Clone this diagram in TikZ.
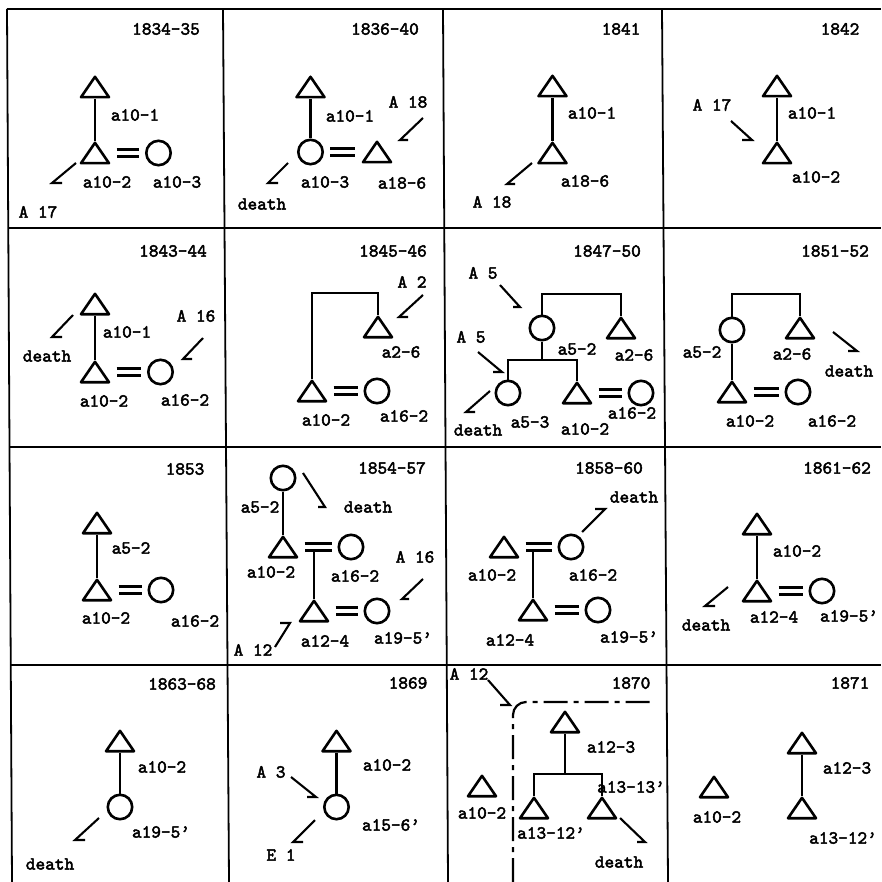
\documentclass[tikz,border=0pt]{standalone}
\usepackage{fontspec}
\newfontfamily\typefont{lmmono10-regular}[Extension=.otf, FakeBold=2.6]
\usetikzlibrary{calc}

\begin{document}
\begin{tikzpicture}[
        x=1pt, y=-1pt,
        gridline/.style={draw, line width=1.8pt},
        kin/.style={draw, line width=2.7pt},
        male/.style={minimum width=30.8pt, minimum height=23.2pt, inner sep=0pt, path picture={
            \draw[line width=2.6pt, line join=round]
                ($(path picture bounding box.north)+(0pt,-1.4pt)$) --
                ($(path picture bounding box.south east)+(-1.4pt,1.4pt)$) --
                ($(path picture bounding box.south west)+(1.4pt,1.4pt)$) -- cycle;}},
        female/.style={circle, draw, line width=2.6pt, minimum size=24.4pt, inner sep=0pt},
        marry/.style={draw, double, double distance=4.4pt, line width=2.5pt, shorten <=6pt, shorten >=6pt},
        ptr/.style={draw, line width=2.1pt, line join=miter},
        lab/.style={font=\typefont\fontsize{18.4}{20}\selectfont, inner sep=0pt},
        year/.style={lab}
    ]
        \useasboundingbox (0,0) rectangle (881,882);

        % Table grid
        \draw [gridline] (7,9) -- (12,882);
        \draw [gridline] (223,9) -- (229,882);
        \draw [gridline] (443,9) -- (448,882);
        \draw [gridline] (662,9) -- (668,882);
        \draw [gridline] (7,9) -- (881,9);
        \draw [gridline] (8.5,228) -- (881,228);
        \draw [gridline] (10,447) -- (881,447);
        \draw [gridline] (11,665) -- (881,665);

        % 1834-35
        \node (Ay) [year] at (166,29) {1834-35};
        \node (A101) [male] at (95,87) {};
        \node (A102) [male] at (95,153) {};
        \node (A103) [female] at (158.5,153) {};
        \draw [kin] (A101.south) -- (A102.north);
        \draw [marry] (A102.east) -- (A103.west);
        \node (A101t) [lab] at (135,115) {a10-1};
        \node (A102t) [lab] at (107,182) {a10-2};
        \node (A103t) [lab] at (177,182) {a10-3};
        \node (AA17) [lab] at (38,212) {A 17};
        \draw [ptr] (76,163) -- (52,183) -- ++(10,0);

        % 1836-40
        \node (By) [year] at (385,29) {1836-40};
        \node (B101) [male] at (310.5,87) {};
        \node (B103) [female] at (310.5,152) {};
        \node (B186) [male] at (377,152) {};
        \draw [kin] (B101.south) -- (B103.north);
        \draw [marry] (B103.east) -- (B186.west);
        \node (B101t) [lab] at (350,116) {a10-1};
        \node (B103t) [lab] at (325,182) {a10-3};
        \node (B186t) [lab] at (402,183) {a18-6};
        \node (BA18) [lab] at (408,102) {A 18};
        \node (Bdeath) [lab] at (262,204) {death};
        \draw [ptr] (423,118) -- (400,140) -- ++(8,0);
        \draw [ptr] (288,163) -- (268,183) -- ++(10,0);

        % 1841
        \node (Cy) [year] at (621,29) {1841};
        \node (C101) [male] at (552.5,86) {};
        \node (C186) [male] at (552.5,153) {};
        \draw [kin] (C101.south) -- (C186.north);
        \node (C101t) [lab] at (592,113) {a10-1};
        \node (C186t) [lab] at (585,181) {a18-6};
        \node (CA18) [lab] at (492,202) {A 18};
        \draw [ptr] (532,163) -- (507,184) -- ++(8,0);

        % 1842
        \node (Dy) [year] at (840,29) {1842};
        \node (D101) [male] at (777,86) {};
        \node (D102) [male] at (777,153) {};
        \draw [kin] (D101.south) -- (D102.north);
        \node (D101t) [lab] at (812,113) {a10-1};
        \node (D102t) [lab] at (816,177) {a10-2};
        \node (DA17) [lab] at (712,105) {A 17};
        \draw [ptr] (731,121) -- (752,140) -- ++(-10,0);

        % 1843-44
        \node (Ey) [year] at (173,251) {1843-44};
        \node (E101) [male] at (95,304) {};
        \node (E102) [male] at (95,372) {};
        \node (E162) [female] at (160.5,372) {};
        \draw [kin] (E101.south) -- (E102.north);
        \draw [marry] (E102.east) -- (E162.west);
        \node (E101t) [lab] at (127,332) {a10-1};
        \node (E102t) [lab] at (104,401) {a10-2};
        \node (E162t) [lab] at (185,400) {a16-2};
        \node (Edeath) [lab] at (47,356) {death};
        \node (EA16) [lab] at (196,316) {A 16};
        \draw [ptr] (73,315) -- (52,337) -- ++(10,0);
        \draw [ptr] (203,338) -- (183,359) -- ++(9,0);

        % 1845-46
        \node (Fy) [year] at (393,251) {1845-46};
        \node (F26) [male] at (378,327) {};
        \node (F102) [male] at (312,391) {};
        \node (F162) [female] at (377,391) {};
        \coordinate (Ftop) at (345,293);
        \draw [kin] (F102.north) |- (Ftop) -| (F26.north);
        \draw [marry] (F102.east) -- (F162.west);
        \node (F26t) [lab] at (401,352) {a2-6};
        \node (F102t) [lab] at (326,420) {a10-2};
        \node (F162t) [lab] at (404,416) {a16-2};
        \node (FA2) [lab] at (412,282) {A 2};
        \draw [ptr] (423,295) -- (399,317) -- ++(9,0);

        % 1847-50
        \node (Gy) [year] at (607,251) {1847-50};
        \node (G52) [female] at (542,328) {};
        \node (G26) [male] at (621,328) {};
        \node (G53) [female] at (508,393) {};
        \node (G102) [male] at (577,393) {};
        \node (G162) [female] at (641,393) {};
        \coordinate (Gtop) at (581,294);
        \coordinate (Gmid) at (542,360);
        \draw [kin] (G52.north) |- (Gtop) -| (G26.north);
        \draw [kin] (G52.south) -- (G52.south |- Gmid);
        \draw [kin] (G53.north) |- (Gmid) -| (G102.north);
        \draw [marry] (G102.east) -- (G162.west);
        \node (G52t) [lab] at (577,349) {a5-2};
        \node (G26t) [lab] at (634,355) {a2-6};
        \node (G53t) [lab] at (530,422) {a5-3};
        \node (G102t) [lab] at (585,429) {a10-2};
        \node (G162t) [lab] at (632,413) {a16-2};
        \node (GA5a) [lab] at (483,273) {A 5};
        \node (GA5b) [lab] at (471,337) {A 5};
        \node (Gdeath) [lab] at (478,430) {death};
        \draw [ptr] (500,285) -- (520,307) -- ++(-7,0);
        \draw [ptr] (478,352) -- (502,372) -- ++(-9,0);
        \draw [ptr] (490,391) -- (466,412) -- ++(9,0);

        % 1851-52
        \node (Hy) [year] at (835,251) {1851-52};
        \node (H52) [female] at (732,330) {};
        \node (H26) [male] at (800,328) {};
        \node (H102) [male] at (732,392) {};
        \node (H162) [female] at (798,392) {};
        \coordinate (Htop) at (766,294);
        \draw [kin] (H52.north) |- (Htop) -| (H26.north);
        \draw [kin] (H52.south) -- (H102.north);
        \draw [marry] (H102.east) -- (H162.west);
        \node (H52t) [lab] at (702,352) {a5-2};
        \node (H26t) [lab] at (792,354) {a2-6};
        \node (H102t) [lab] at (750,421) {a10-2};
        \node (H162t) [lab] at (832,421) {a16-2};
        \node (Hdeath) [lab] at (849,371) {death};
        \draw [ptr] (833,332) -- (857,351) -- ++(-9,0);

        % 1853
        \node (Iy) [year] at (185,469) {1853};
        \node (I52) [male] at (97,523) {};
        \node (I102) [male] at (97,590) {};
        \node (I162) [female] at (161,590) {};
        \draw [kin] (I52.south) -- (I102.north);
        \draw [marry] (I102.east) -- (I162.west);
        \node (I52t) [lab] at (131,548) {a5-2};
        \node (I102t) [lab] at (106,618) {a10-2};
        \node (I162t) [lab] at (195,621) {a16-2};

        % 1854-57
        \node (Jy) [year] at (392,468) {1854-57};
        \node (J52) [female] at (283,478) {};
        \node (J102) [male] at (283,547) {};
        \node (J162) [female] at (351,547) {};
        \node (J124) [male] at (314,611) {};
        \node (J195) [female] at (377,611) {};
        \draw [kin] (J52.south) -- (J102.north);
        \draw [marry] (J102.east) -- (J162.west);
        \draw [kin] (J124.north) -- ($(J124.north |- J102.east)+(0,3.4)$);
        \draw [marry] (J124.east) -- (J195.west);
        \node (J52t) [lab] at (260,507) {a5-2};
        \node (J102t) [lab] at (271,572) {a10-2};
        \node (J162t) [lab] at (355,576) {a16-2};
        \node (J124t) [lab] at (325,641) {a12-4};
        \node (J195t) [lab] at (403,638) {a19-5’};
        \node (Jdeath) [lab] at (368,507) {death};
        \node (JA16) [lab] at (415,557) {A 16};
        \node (JA12) [lab] at (253,650) {A 12};
        \draw [ptr] (303,473) -- (325,507) -- ++(-7,0);
        \draw [ptr] (423,579) -- (402,599) -- ++(7,0);
        \draw [ptr] (275,647) -- (290,623) -- ++(-10,0);

        % 1858-60
        \node (Ky) [year] at (609,468) {1858-60};
        \node (K102) [male] at (504,547) {};
        \node (K162) [female] at (571,547) {};
        \node (K124) [male] at (533,610) {};
        \node (K195) [female] at (598,610) {};
        \draw [marry] (K102.east) -- (K162.west);
        \draw [kin] (K124.north) -- ($(K124.north |- K102.east)+(0,3.4)$);
        \draw [marry] (K124.east) -- (K195.west);
        \node (K102t) [lab] at (492,575) {a10-2};
        \node (K162t) [lab] at (593,575) {a16-2};
        \node (K124t) [lab] at (510,640) {a12-4};
        \node (K195t) [lab] at (629,637) {a19-5’};
        \node (Kdeath) [lab] at (634,497) {death};
        \draw [ptr] (582,532) -- (605,509) -- ++(-10,0);

        % 1861-62
        \node (Ly) [year] at (837,468) {1861-62};
        \node (L102) [male] at (757,524) {};
        \node (L124) [male] at (757,591) {};
        \node (L195) [female] at (822,591) {};
        \draw [kin] (L102.south) -- (L124.north);
        \draw [marry] (L124.east) -- (L195.west);
        \node (L102t) [lab] at (797,551) {a10-2};
        \node (L124t) [lab] at (774,617) {a12-4};
        \node (L195t) [lab] at (849,616) {a19-5’};
        \node (Ldeath) [lab] at (706,625) {death};
        \draw [ptr] (728,587) -- (705,606) -- ++(10,0);

        % 1863-68
        \node (My) [year] at (182,684) {1863-68};
        \node (M102) [male] at (120,741) {};
        \node (M195) [female] at (120,807) {};
        \draw [kin] (M102.south) -- (M195.north);
        \node (M102t) [lab] at (162,767) {a10-2};
        \node (M195t) [lab] at (161,832) {a19-5’};
        \node (Mdeath) [lab] at (50,864) {death};
        \draw [ptr] (99,818) -- (75,840) -- ++(10,0);

        % 1869
        \node (Ny) [year] at (408,683) {1869};
        \node (N102) [male] at (336.5,741) {};
        \node (N156) [female] at (336.5,807) {};
        \draw [kin] (N102.south) -- (N156.north);
        \node (N102t) [lab] at (387,765) {a10-2};
        \node (N156t) [lab] at (391,825) {a15-6’};
        \node (NA3) [lab] at (271,772) {A 3};
        \node (NE1) [lab] at (281,855) {E 1};
        \draw [ptr] (291,777) -- (316,797) -- ++(-9,0);
        \draw [ptr] (315,820) -- (293,842) -- ++(10,0);

        % 1870
        \node (Oy) [year] at (631,683) {1870};
        \node (O123) [male] at (565,722) {};
        \node (O1312) [male] at (534,808) {};
        \node (O1313) [male] at (602,808) {};
        \node (O102) [male] at (482,786) {};
        \coordinate (Omid) at (565,774);
        \draw [kin] (O123.south) -- (Omid);
        \draw [kin] (O1312.north) |- (Omid) -| (O1313.north);
        \draw [kin, line width=2.2pt, dash pattern=on 24pt off 6pt on 5pt off 6pt, rounded corners=13pt] (513,882) -- (513,702) -- (653,702);
        \node (O123t) [lab] at (611,747) {a12-3};
        \node (O1313t) [lab] at (631,787) {a13-13’};
        \node (O1312t) [lab] at (551,833) {a13-12’};
        \node (O102t) [lab] at (482,813) {a10-2};
        \node (OA12) [lab] at (469,674) {A 12};
        \node (Odeath) [lab] at (619,862) {death};
        \draw [ptr] (488,680) -- (510,705) -- ++(-10,0);
        \draw [ptr] (620,818) -- (645,842) -- ++(-8,0);

        % 1871
        \node (Py) [year] at (850,683) {1871};
        \node (P123) [male] at (802,743) {};
        \node (P1312) [male] at (802,808) {};
        \node (P102) [male] at (714,787) {};
        \draw [kin] (P123.south) -- (P1312.north);
        \node (P123t) [lab] at (847,768) {a12-3};
        \node (P1312t) [lab] at (843,838) {a13-12’};
        \node (P102t) [lab] at (717,817) {a10-2};

    \end{tikzpicture}
\end{document}
